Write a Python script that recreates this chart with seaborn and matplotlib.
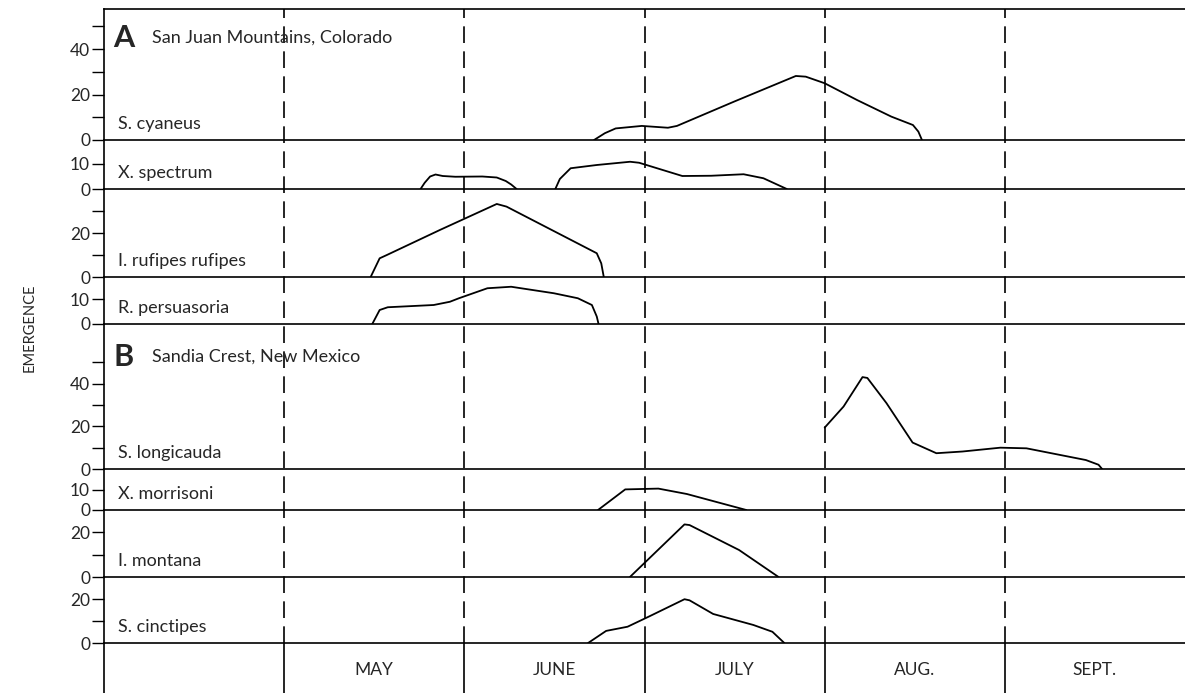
import pandas as pd
import matplotlib.pyplot as plt
import seaborn as sns

# x axis: months counted from April 1 (0 = Apr 1, 1 = May 1, ...)
month_names = ["MAY", "JUNE", "JULY", "AUG.", "SEPT."]
month_edges = [1, 2, 3, 4, 5]

# ---- A: San Juan Mountains ----
cyaneus_x = [2.72, 2.78, 2.84, 2.985, 3.13, 3.18, 3.50, 3.84, 3.895, 4.0, 4.18, 4.37, 4.49, 4.52, 4.54]
cyaneus_y = [0, 3, 5.1, 6.2, 5.4, 6.2, 17, 28.2, 27.9, 25, 17.6, 10.3, 6.6, 3.7, 0]

spectrum_a_x = [1.757, 1.78, 1.81, 1.84, 1.88, 1.95, 2.10, 2.18, 2.23, 2.26, 2.29]
spectrum_a_y = [0, 2.5, 5.0, 5.8, 5.2, 4.9, 5.0, 4.6, 3.2, 1.8, 0]
spectrum_b_x = [2.505, 2.53, 2.59, 2.735, 2.92, 2.97, 3.21, 3.37, 3.55, 3.66, 3.79]
spectrum_b_y = [0, 4.0, 8.3, 9.6, 10.9, 10.5, 5.2, 5.3, 5.9, 4.3, 0]

rufipes_x = [1.48, 1.53, 1.57, 1.865, 2.18, 2.234, 2.735, 2.76, 2.774]
rufipes_y = [0, 8.5, 10, 21.4, 33.2, 32, 10.8, 6.2, 0]

persuasoria_x = [1.489, 1.53, 1.575, 1.83, 1.92, 1.97, 2.128, 2.26, 2.497, 2.63, 2.708, 2.735, 2.745]
persuasoria_y = [0, 5.6, 6.7, 7.6, 8.9, 10.3, 14.3, 14.9, 12.3, 10.3, 7.6, 3, 0]

# ---- B: Sandia Crest ----
longicauda_x = [4.0, 4.105, 4.21, 4.237, 4.343, 4.488, 4.62, 4.765, 4.975, 5.12, 5.24, 5.45, 5.52, 5.54]
longicauda_y = [19.4, 29.3, 43.1, 42.7, 30.9, 12.4, 7.4, 8.2, 10.0, 9.7, 7.7, 4.2, 2.0, 0]

morrisoni_x = [2.742, 2.893, 3.077, 3.235, 3.565]
morrisoni_y = [0, 10.3, 10.7, 8, 0]

montana_x = [2.919, 3.222, 3.25, 3.525, 3.744]
montana_y = [0, 23.4, 23.1, 12, 0]

cinctipes_x = [2.687, 2.787, 2.906, 3.024, 3.222, 3.25, 3.381, 3.604, 3.71, 3.776]
cinctipes_y = [0, 5.5, 7.4, 12, 19.9, 19.4, 13.2, 8.2, 5.1, 0]

# panel layout: (label, segments, pixel top, pixel bottom, ymax, major ticks, minor ticks)
panels = [
    ("S. cyaneus", [(cyaneus_x, cyaneus_y)], 9, 140, 57.7, [0, 20, 40], [10, 30, 50]),
    ("X. spectrum", [(spectrum_a_x, spectrum_a_y), (spectrum_b_x, spectrum_b_y)], 140, 189, 19.6, [0, 10], []),
    ("I. rufipes rufipes", [(rufipes_x, rufipes_y)], 189, 277, 40, [0, 20], [10, 30]),
    ("R. persuasoria", [(persuasoria_x, persuasoria_y)], 277, 324, 18.8, [0, 10], []),
    ("S. longicauda", [(longicauda_x, longicauda_y)], 324, 469, 68, [0, 20, 40], [10, 30, 50]),
    ("X. morrisoni", [(morrisoni_x, morrisoni_y)], 469, 510, 20.5, [0, 10], []),
    ("I. montana", [(montana_x, montana_y)], 510, 577, 29.8, [0, 20], [10]),
    ("S. cinctipes", [(cinctipes_x, cinctipes_y)], 577, 643, 30, [0, 20], [10]),
]

sns.set_style("white")
plt.rcParams["font.family"] = ["Lato", "DejaVu Sans"]

W, H = 1185, 693
fig = plt.figure(figsize=(W / 100, H / 100), dpi=100)
X0 = 104


def rect(top, bottom):
    return [X0 / W, 1 - bottom / H, (W - X0) / W, (bottom - top) / H]


for i, (name, segs, top, bot, ymax, major, minor) in enumerate(panels):
    ax = fig.add_axes(rect(top, bot))
    for sx, sy in segs:
        df = pd.DataFrame({"month": sx, "emergence": sy})
        sns.lineplot(data=df, x="month", y="emergence", ax=ax, color="black",
                     lw=1.3, sort=False, estimator=None)
    ax.set_xlim(0, 6)
    ax.set_ylim(0, ymax)
    ax.set_xlabel("")
    ax.set_ylabel("")
    ax.set_xticks([])
    ax.set_yticks(major)
    ax.set_yticks(minor, minor=True)
    ax.tick_params(axis="y", which="both", direction="out", length=9, width=1,
                   labelsize=12.5, pad=1, color="black", left=True)
    ax.spines["right"].set_visible(False)
    ax.spines["top"].set_visible(i == 0)
    for s in ["left", "bottom", "top"]:
        ax.spines[s].set_color("black")
        ax.spines[s].set_linewidth(1.2)
    ax.patch.set_alpha(0)
    fig.text(118 / W, 1 - (bot - 16) / H, name, fontsize=13, va="center", ha="left")

# dashed month dividers across all panels
ov = fig.add_axes(rect(9, 643))
ov.set_xlim(0, 6)
ov.set_ylim(0, 1)
ov.axis("off")
ov.patch.set_alpha(0)
for e in month_edges:
    ov.axvline(e, color="black", lw=1.2, ls=(0, (10, 5)))

# month label row
axm = fig.add_axes(rect(643, H))
axm.set_xlim(0, 6)
axm.set_ylim(0, 1)
axm.set_xticks([])
axm.set_yticks([])
for s in ["top", "right", "bottom"]:
    axm.spines[s].set_visible(False)
axm.spines["left"].set_color("black")
axm.spines["left"].set_linewidth(1.2)
axm.patch.set_alpha(0)
for e in month_edges:
    axm.axvline(e, color="black", lw=1.2)
for k, m in enumerate(month_names):
    axm.text(month_edges[k] + 0.5, 0.46, m, ha="center", va="center", fontsize=12.5)

# section headings
fig.text(113 / W, 1 - 38 / H, "A", fontsize=22, fontweight="bold", va="center")
fig.text(152 / W, 1 - 38 / H, "San Juan Mountains, Colorado", fontsize=13, va="center")
fig.text(113 / W, 1 - 357 / H, "B", fontsize=22, fontweight="bold", va="center")
fig.text(152 / W, 1 - 357 / H, "Sandia Crest, New Mexico", fontsize=13, va="center")

fig.text(30 / W, 1 - 328 / H, "EMERGENCE", rotation=90, fontsize=10.5, ha="center", va="center")

fig.savefig("out.png", dpi=100)
